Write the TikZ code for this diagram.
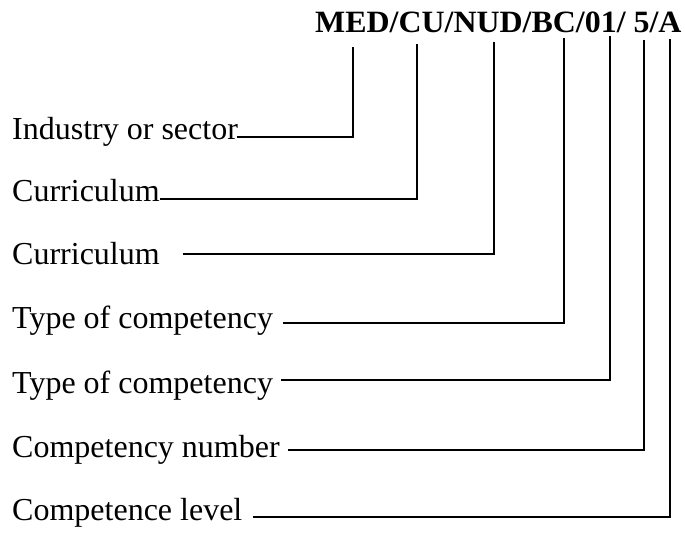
\documentclass[tikz,border=0pt]{standalone}
\usepackage{graphicx}
\usepackage{fontspec}
\setmainfont{Liberation Serif}
\begin{document}
\begin{tikzpicture}[x=1pt,y=-1pt,
  lab/.style={anchor=base west,inner sep=0pt,font=\fontsize{32}{36}\selectfont},
  conn/.style={line width=1.6pt}]
\useasboundingbox (0,0) rectangle (685,534);
\node[anchor=base west,inner sep=0pt] (code) at (315,33)
  {\scalebox{1.03}[1]{\fontsize{31}{34}\selectfont\bfseries MED/CU/NUD/BC/01/ 5/A}};
% labels
\node[lab] (l1) at (12,140) {Industry or sector};
\node[lab] (l2) at (12,202) {Curriculum};
\node[lab] (l3) at (12,265) {Curriculum};
\node[lab] (l4) at (12,329) {Type of competency};
\node[lab] (l5) at (12,393) {Type of competency};
\node[lab] (l6) at (12,457) {Competency number};
\node[lab] (l7) at (12,520) {Competence level};
% connector points
\coordinate (s1) at (237,137); \coordinate (c1) at (353,137); \coordinate (t1) at (353,47);
\coordinate (s2) at (160,199); \coordinate (c2) at (417,199); \coordinate (t2) at (417,44);
\coordinate (s3) at (183,254); \coordinate (c3) at (494,254); \coordinate (t3) at (494,42);
\coordinate (s4) at (283,323); \coordinate (c4) at (564,323); \coordinate (t4) at (564,38);
\coordinate (s5) at (281,380); \coordinate (c5) at (610,380); \coordinate (t5) at (610,36);
\coordinate (s6) at (288,450); \coordinate (c6) at (644,450); \coordinate (t6) at (644,40);
\coordinate (s7) at (253,517); \coordinate (c7) at (670,517); \coordinate (t7) at (670,39);
\foreach \i in {1,...,7} {\draw[conn] (s\i) -- (c\i) -- (t\i);}
\end{tikzpicture}
\end{document}
